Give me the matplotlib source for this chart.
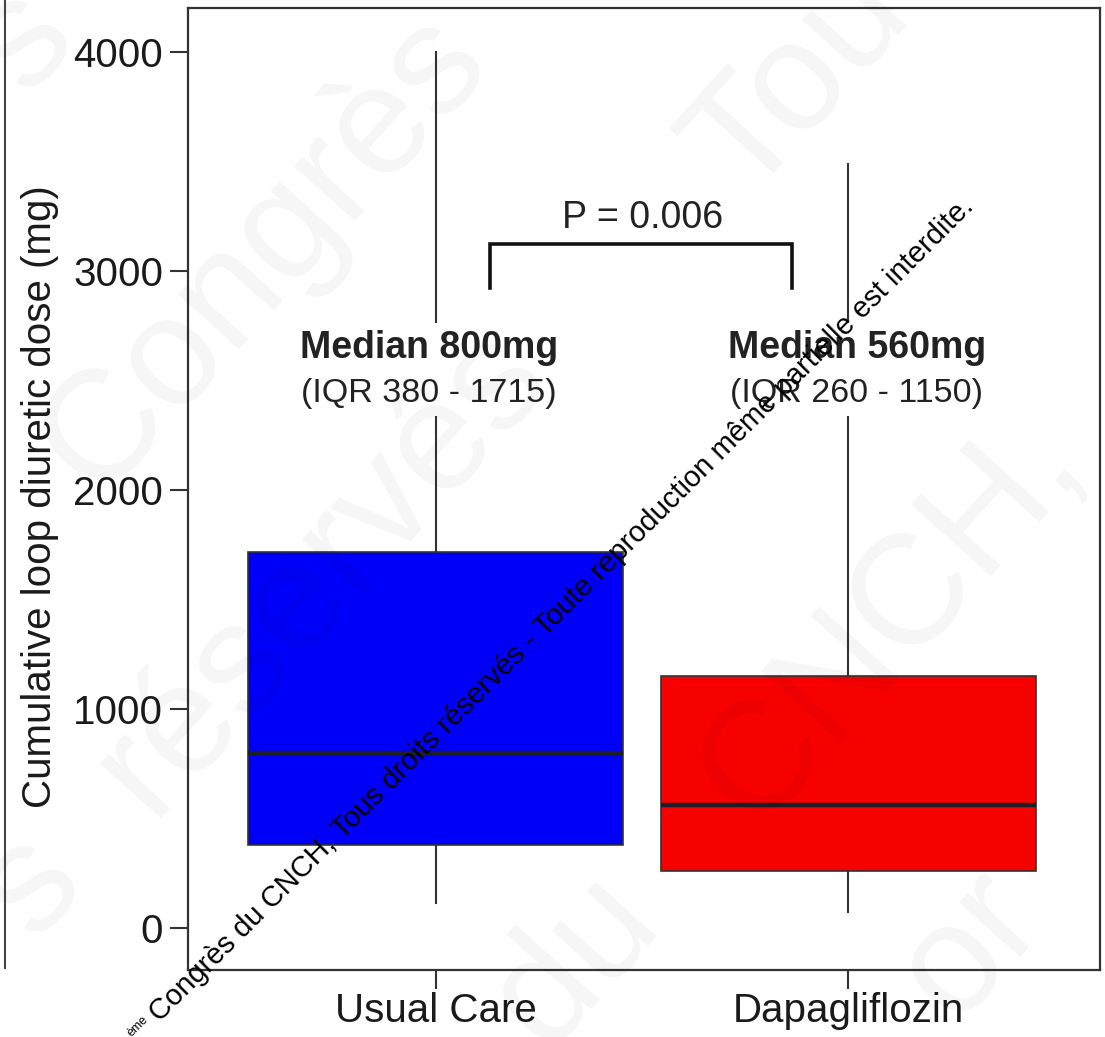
import matplotlib
matplotlib.use("Agg")
import matplotlib.pyplot as plt
from matplotlib.lines import Line2D
import numpy as np

# ---- data -------------------------------------------------------------
groups = ["Usual Care", "Dapagliflozin"]
q1 = [380, 260]
medians = [800, 560]
q3 = [1715, 1150]
whisker_low = [115, 75]
whisker_high = [4000, 3490]
box_colors = ["#0000fa", "#f70000"]
y_ticks = [0, 1000, 2000, 3000, 4000]
p_value_text = "P = 0.006"
y_label = "Cumulative loop diuretic dose (mg)"
notice = "Congrès du CNCH, Tous droits réservés - Toute reproduction même partielle est interdite."

plt.rcParams["font.family"] = ["Liberation Sans", "DejaVu Sans"]

W, H = 1105, 1037
fig = plt.figure(figsize=(W / 100, H / 100), dpi=100)


def fig_xy(px, py):
    """pixel position (origin top-left) -> figure fraction"""
    return px / W, 1 - py / H


ax = fig.add_axes([188 / W, 1 - 970 / H, (1100 - 188) / W, (970 - 8) / H])

stats = [
    dict(label=g, q1=a, med=m, q3=b, whislo=lo, whishi=hi, fliers=[])
    for g, a, m, b, lo, hi in zip(groups, q1, medians, q3, whisker_low, whisker_high)
]
bp = ax.bxp(
    stats,
    positions=[1, 2],
    widths=0.906,
    patch_artist=True,
    showcaps=False,
    showfliers=False,
    boxprops=dict(edgecolor="#333333", linewidth=1.2),
    medianprops=dict(color="#1e1e28", linewidth=3.2),
    whiskerprops=dict(color="#333333", linewidth=1.5),
)
for patch, c in zip(bp["boxes"], box_colors):
    patch.set_facecolor(c)

ax.set_xlim(0.4007, 2.609)
ax.set_ylim(-192, 4201)
ax.set_yticks(y_ticks)
ax.set_yticklabels([str(v) for v in y_ticks])
ax.set_xticks([1, 2])
ax.set_xticklabels(groups)
ax.tick_params(axis="y", labelsize=29, length=13, width=1.5, color="#333333",
               labelcolor="#1a1a1a", pad=5)
ax.tick_params(axis="x", labelsize=29, length=14, width=1.5, color="#333333",
               labelcolor="#1a1a1a", pad=2)
for s in ax.spines.values():
    s.set_linewidth(1.6)
    s.set_color("#333333")

ax.set_ylabel(y_label, fontsize=29, color="#1a1a1a")
ax.yaxis.set_label_coords(-0.141, 0.492)

# median / IQR annotations (white backing interrupts the whiskers)
label_x = [0.984, 2.02]
for x, a, m, b in zip(label_x, q1, medians, q3):
    ax.text(x, 2603, f"Median {m}mg", ha="center", va="baseline", fontsize=27,
            fontweight="bold", color="#222222", zorder=4,
            bbox=dict(facecolor="white", edgecolor="none", pad=5))
    ax.text(x, 2402, f"(IQR {a} - {b})", ha="center", va="baseline", fontsize=24.5,
            color="#222222", zorder=4,
            bbox=dict(facecolor="white", edgecolor="none", pad=5))

# significance bracket
ax.plot([1.132, 1.132, 1.863, 1.863], [2922, 3123, 3123, 2922],
        color="#111111", linewidth=2.6, solid_joinstyle="miter", zorder=3)
ax.text(1.502, 3196, p_value_text, ha="center", va="baseline", fontsize=27,
        color="#222222", zorder=4)

# faint background watermark
faint_words = [
    ("s", 22, 40), ("Congrès", 263, 253), ("s", 30, 885), ("réservés", 320, 570),
    ("Tou", 800, 80), ("du", 575, 960), ("CNCH,", 890, 620), ("or", 970, 945),
]
for w, px, py in faint_words:
    fx, fy = fig_xy(px, py)
    fig.text(fx, fy, w, fontsize=112, rotation=48, ha="center", va="center",
             rotation_mode="anchor", color="black", alpha=0.04, zorder=0)

# copyright notice across the plot
ang = 45.0
sx, sy = fig_xy(160, 1023)
fig.text(sx, sy, notice, fontsize=21, rotation=ang, rotation_mode="anchor",
         ha="left", va="baseline", color="black", zorder=10)
ux, uy = np.cos(np.radians(ang)), np.sin(np.radians(ang))
back, up = 6, 10
ex = sx - back * ux / W - up * uy / W
ey = sy - back * uy / H + up * ux / H
fig.text(ex, ey, "ème", fontsize=9, rotation=ang, rotation_mode="anchor",
         ha="right", va="baseline", color="black", zorder=10)

# edge of the neighbouring panel
x0, _ = fig_xy(5, 0)
fig.add_artist(Line2D([x0, x0], [1, fig_xy(0, 968)[1]], color="#444444", linewidth=1.5))

fig.savefig("out.png", dpi=100, facecolor="white")
